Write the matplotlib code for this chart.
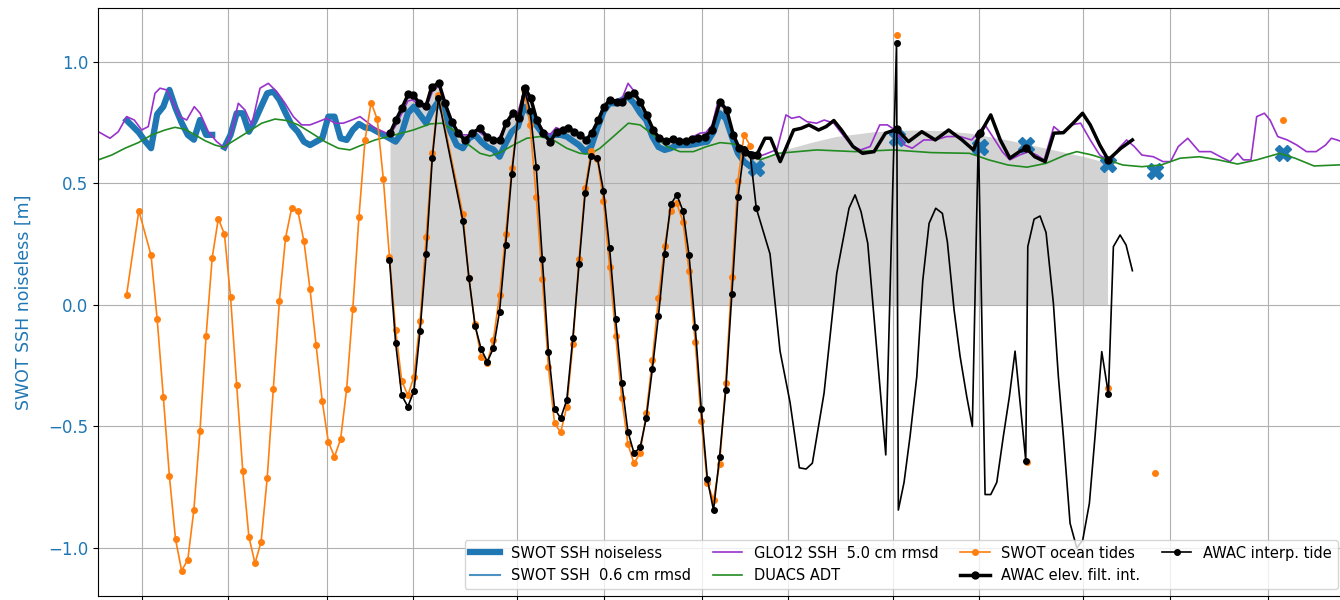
import numpy as np
import matplotlib
matplotlib.use("Agg")
import matplotlib.pyplot as plt
import matplotlib.dates as mdates

# time axis: days since 2023-04-01
t0 = np.datetime64("2023-04-01T00:00")
pass0 = -2.5        # day of first SWOT 1-day-orbit pass
repeat = 0.99349    # 1-day orbit repeat period [days]


def days2date(d):
    return t0 + np.round(np.asarray(d, dtype=float) * 86400).astype("timedelta64[s]")


# ---- SWOT SSH (1-day orbit, pass index 0..103, pass 15 missing)
ssh_pass = np.arange(0, 104)
ssh_noiseless = [0.76, 0.735, 0.71, 0.675, 0.645, 0.785, 0.816, 0.885, 0.81, 0.75,
                 0.70, 0.68, 0.761, 0.70, 0.70, np.nan,
                 0.649, 0.700, 0.789, 0.789, 0.713, 0.760, 0.816, 0.871, 0.878, 0.844,
                 0.790, 0.740, 0.713, 0.672, 0.658, 0.672, 0.686, 0.775, 0.775, 0.686,
                 0.679, 0.720, 0.745, 0.730, 0.727, 0.713, 0.700, 0.686, 0.672, 0.707,
                 0.789, 0.816, 0.782, 0.748, 0.802, 0.837, 0.789, 0.713, 0.658, 0.645,
                 0.686, 0.700, 0.672, 0.650, 0.640, 0.610, 0.665, 0.713, 0.734, 0.816,
                 0.789, 0.741, 0.707, 0.693, 0.700, 0.700, 0.693, 0.675, 0.658, 0.631,
                 0.652, 0.727, 0.796, 0.830, 0.830, 0.844, 0.857, 0.830, 0.790, 0.761,
                 0.693, 0.650, 0.638, 0.645, 0.658, 0.658, 0.658, 0.662, 0.668, 0.672,
                 0.713, 0.789, 0.768, 0.693, 0.624, 0.590, 0.570, 0.562]
ssh_06cm = ssh_noiseless  # 0.6 cm noise is below pixel level

# SWOT SSH at science-orbit passes
sci_ssh_day = [122.69, 136.24, 143.72, 157.03, 164.6, 185.4]
sci_ssh = [0.686, 0.652, 0.658, 0.580, 0.551, 0.624]

# ---- SWOT ocean tides (1-day orbit passes)
tide_pass = [0, 2] + list(range(4, 52)) + list(range(55, 103))
swot_tide = [0.042, 0.388,
             0.204, -0.059, -0.377, -0.704, -0.964, -1.093, -1.049, -0.844, -0.517, -0.128,
             0.195, 0.355, 0.292, 0.033, -0.328, -0.683, -0.953, -1.063, -0.974, -0.711,
             -0.344, 0.018, 0.276, 0.399, 0.388, 0.263, 0.065, -0.166, -0.396, -0.564,
             -0.624, -0.553, -0.344, -0.015, 0.361, 0.679, 0.833, 0.764, 0.517, 0.196,
             -0.103, -0.311, -0.372, -0.295, -0.065, 0.281, 0.624, 0.864,
             0.373, 0.110, -0.080, -0.215, -0.237, -0.144, 0.041, 0.291, 0.562, 0.770,
             0.885, 0.740, 0.446, 0.106, -0.256, -0.487, -0.524, -0.418, -0.160, 0.188,
             0.480, 0.635, 0.600, 0.429, 0.158, -0.126, -0.384, -0.572, -0.652, -0.608,
             -0.446, -0.226, 0.027, 0.243, 0.388, 0.418, 0.343, 0.140, -0.151, -0.476,
             -0.734, -0.802, -0.654, -0.322, 0.114, 0.512, 0.700, 0.656]
sci_tide_day = [122.7, 143.83, 157.0, 164.64, 185.44]
sci_tide = [1.11, -0.646, -0.342, -0.69, 0.761]

# ---- AWAC interpolated tide
awac_tide_pass = list(range(43, 52)) + list(range(55, 104))
awac_tide = [0.185, -0.155, -0.372, -0.418, -0.354, -0.106, 0.210, 0.604, 0.851,
             0.346, 0.110, -0.086, -0.182, -0.233, -0.178, -0.027, 0.247, 0.539, 0.768,
             0.892, 0.800, 0.569, 0.188, -0.192, -0.427, -0.466, -0.391, -0.134, 0.167,
             0.460, 0.613, 0.606, 0.470, 0.233, -0.059, -0.322, -0.521, -0.610, -0.586,
             -0.466, -0.263, -0.044, 0.210, 0.414, 0.453, 0.388, 0.204, -0.089, -0.429,
             -0.717, -0.844, -0.624, -0.350, 0.044, 0.443, 0.640, 0.620, 0.398]
awac_tide_day2 = [102.06, 103.69, 105.31, 106.83, 107.92, 108.94, 110.84, 112.90, 114.90,
                  115.88, 116.85, 117.94, 119.41, 120.87, 122.62, 122.91, 123.84, 124.82,
                  125.91, 126.88, 127.91, 128.99, 130.07, 130.88, 131.97, 132.94, 134.03,
                  134.94, 135.92, 137.01, 137.93, 138.91, 139.98, 140.96, 141.88, 143.62,
                  143.95, 144.97, 145.94, 146.92, 148.11, 148.92, 149.73, 150.82, 151.91,
                  152.88, 153.96, 154.88, 155.97, 157.05, 157.86, 158.95, 159.92, 160.95]
awac_tide2 = [0.21, -0.19, -0.40, -0.67, -0.675, -0.651, -0.363, 0.13, 0.398,
              0.453, 0.384, 0.254, -0.185, -0.617, 1.08, -0.844, -0.73, -0.54,
              -0.295, 0.10, 0.336, 0.398, 0.377, 0.26, -0.02, -0.21, -0.377,
              -0.50, 0.70, -0.78, -0.78, -0.73, -0.54, -0.377, -0.19, -0.64,
              0.24, 0.353, 0.366, 0.298, 0.007, -0.295, -0.54, -0.898, -1.0,
              -0.967, -0.816, -0.54, -0.192, -0.366, 0.24, 0.288, 0.247, 0.141]

# ---- AWAC elevation, filtered, interpolated
awac_day = [40.31, 41.28, 42.21, 43.28, 44.09, 45.07, 46.16, 47.08, 48.27, 49.24,
            50.33, 51.41, 52.49, 53.58, 54.93, 56.02, 57.09, 58.18, 59.16, 60.25,
            61.32, 62.25, 63.17, 64.15, 65.22, 66.31, 67.40, 68.37, 69.28, 70.26,
            71.18, 72.16, 73.09, 74.16, 75.09, 76.06, 77.15, 78.06, 79.04, 80.01,
            80.94, 82.02, 83.10, 84.07, 85.16, 86.25, 87.32, 88.41, 89.34, 90.41,
            91.50, 92.59, 93.94, 95.03, 96.10, 97.07, 98.00, 99.09, 99.90]
awac_elev = [0.707, 0.761, 0.809, 0.868, 0.864, 0.830, 0.819, 0.898, 0.912, 0.830,
             0.754, 0.707, 0.679, 0.707, 0.727, 0.693, 0.679, 0.679, 0.748, 0.789,
             0.768, 0.892, 0.851, 0.761, 0.707, 0.672, 0.713, 0.720, 0.727, 0.713,
             0.700, 0.679, 0.707, 0.761, 0.816, 0.844, 0.837, 0.837, 0.864, 0.871,
             0.837, 0.782, 0.720, 0.686, 0.676, 0.682, 0.676, 0.676, 0.682, 0.686,
             0.693, 0.720, 0.837, 0.802, 0.700, 0.645, 0.631, 0.617, 0.617]
awac_day2 = [101.24, 102.16, 103.72, 105.90, 107.13, 108.39, 109.95, 111.18, 112.43, 113.67,
             115.54, 117.10, 118.97, 120.82, 122.69, 124.56, 126.73, 128.91, 131.09, 133.27,
             135.12, 136.24, 137.93, 139.48, 141.04, 142.60, 143.72, 145.08, 146.76, 148.19,
             149.75, 151.31, 152.85, 154.10, 155.65, 157.03, 159.08, 160.95]
awac_elev2 = [0.686, 0.686, 0.590, 0.720, 0.727, 0.741, 0.720, 0.734, 0.759, 0.720,
              0.652, 0.624, 0.631, 0.707, 0.723, 0.672, 0.713, 0.679, 0.720, 0.679,
              0.638, 0.707, 0.782, 0.679, 0.604, 0.631, 0.645, 0.610, 0.590, 0.707,
              0.709, 0.748, 0.789, 0.741, 0.658, 0.597, 0.645, 0.679]

# shaded AWAC envelope after the 1-day phase
shade_day2 = [101.0, 105.3, 108.9, 112.7, 119.0, 125.1, 129.7, 134.5, 140.7, 146.9, 153.2, 156.9]
shade_top2 = [0.61, 0.645, 0.67, 0.693, 0.713, 0.72, 0.718, 0.707, 0.679, 0.645, 0.61, 0.585]

# ---- GLO12 SSH
glo_day = [-7.10, -5.20, -3.85, -2.49, -1.25, -0.05, 1.02, 2.11, 2.93, 4.01,
           5.09, 6.18, 7.26, 8.50, 9.43, 10.78, 12.14, 13.49, 14.58, 15.65,
           16.74, 17.83, 19.18, 20.53, 21.89, 23.24, 24.59, 25.95, 27.30, 28.65,
           30.02, 31.37, 32.72, 34.08, 35.43, 36.52, 37.87, 39.22, 40.31, 41.28,
           42.26, 43.23, 44.04, 45.02, 46.16, 47.29, 48.27, 49.24, 50.38, 51.36,
           52.17, 53.31, 54.44, 55.42, 56.56, 57.69, 58.67, 59.81, 60.94, 62.08,
           63.22, 64.20, 65.17, 66.31, 67.28, 68.26, 69.23, 70.21, 71.18, 72.16,
           73.13, 74.11, 75.08, 76.06, 77.20, 78.01, 78.99, 79.96, 80.94, 82.08,
           83.05, 84.03, 85.16, 86.30, 87.28, 88.41, 89.39, 90.69, 91.66, 92.64,
           93.61, 94.91, 96.05, 97.02, 98.00, 99.14, 100.11, 101.25, 102.22, 103.20,
           104.65, 105.59, 106.83, 108.08, 109.62, 110.87, 112.43, 113.67, 115.23, 116.79,
           118.33, 119.89, 121.13, 122.38, 123.94, 125.17, 127.04, 128.91, 130.78, 132.95,
           134.81, 137.00, 138.24, 139.80, 141.03, 142.59, 144.14, 145.39, 146.62, 148.18,
           149.44, 150.98, 152.54, 154.10, 155.64, 157.20, 158.76, 160.00, 161.25, 162.49,
           164.36, 165.92, 167.15, 168.41, 169.95, 171.82, 173.69, 175.25, 176.82, 178.04,
           178.98, 180.22, 181.15, 182.40, 183.32, 184.57, 186.13, 187.68, 189.24, 190.80,
           192.34, 193.29, 194.21, 196.3]
glo_ssh = [0.713, 0.686, 0.713, 0.775, 0.761, 0.720, 0.734, 0.871, 0.892, 0.885,
           0.830, 0.775, 0.761, 0.816, 0.789, 0.713, 0.672, 0.645, 0.713, 0.830,
           0.802, 0.741, 0.892, 0.912, 0.878, 0.830, 0.775, 0.741, 0.741, 0.754,
           0.768, 0.748, 0.748, 0.761, 0.775, 0.754, 0.727, 0.713, 0.70, 0.74,
           0.79, 0.84, 0.844, 0.82, 0.81, 0.885, 0.90, 0.83, 0.76, 0.71,
           0.70, 0.70, 0.72, 0.70, 0.68, 0.67, 0.72, 0.77, 0.78, 0.88,
           0.84, 0.76, 0.72, 0.70, 0.73, 0.72, 0.73, 0.72, 0.70, 0.68,
           0.70, 0.76, 0.82, 0.85, 0.84, 0.85, 0.912, 0.88, 0.84, 0.78,
           0.72, 0.69, 0.68, 0.68, 0.68, 0.68, 0.69, 0.707, 0.71, 0.74,
           0.837, 0.80, 0.70, 0.65, 0.63, 0.62, 0.61, 0.62, 0.63, 0.64,
           0.782, 0.768, 0.775, 0.754, 0.748, 0.761, 0.748, 0.707, 0.658, 0.638,
           0.652, 0.741, 0.741, 0.720, 0.658, 0.645, 0.679, 0.679, 0.693, 0.693,
           0.679, 0.741, 0.693, 0.631, 0.597, 0.617, 0.631, 0.617, 0.597, 0.734,
           0.707, 0.741, 0.748, 0.679, 0.617, 0.590, 0.645, 0.679, 0.652, 0.617,
           0.610, 0.590, 0.590, 0.652, 0.686, 0.631, 0.631, 0.610, 0.590, 0.624,
           0.597, 0.597, 0.775, 0.789, 0.761, 0.693, 0.679, 0.658, 0.631, 0.631,
           0.658, 0.686, 0.679, 0.66]

# ---- DUACS ADT
duacs_day = [-7.10, -4.92, -2.76, -0.60, 1.58, 3.74, 5.36, 6.99, 8.61, 10.24,
             11.86, 13.21, 15.11, 17.28, 19.45, 21.62, 23.52, 25.40, 27.58, 29.74,
             31.90, 33.80, 35.71, 37.87, 40.03, 42.21, 44.09, 46.81, 48.71, 50.59,
             52.77, 54.93, 56.56, 58.18, 60.34, 62.52, 64.68, 66.84, 69.02, 71.18,
             72.81, 74.43, 76.60, 79.04, 80.94, 83.10, 85.27, 87.43, 89.60, 91.77,
             93.94, 96.10, 98.28, 100.44, 103.41, 109.62, 115.85, 122.07, 128.29, 134.50,
             137.62, 140.73, 143.83, 146.95, 150.05, 151.92, 154.41, 156.90, 159.38, 162.49,
             165.61, 168.71, 171.82, 174.94, 178.04, 181.15, 184.88, 187.38, 190.47, 194.21,
             197.9]
duacs_adt = [0.597, 0.617, 0.645, 0.668, 0.700, 0.720, 0.731, 0.723, 0.700, 0.676,
             0.658, 0.649, 0.679, 0.713, 0.748, 0.765, 0.759, 0.741, 0.707, 0.672,
             0.645, 0.638, 0.658, 0.679, 0.693, 0.707, 0.720, 0.745, 0.748, 0.720,
             0.665, 0.624, 0.613, 0.627, 0.658, 0.686, 0.693, 0.679, 0.645, 0.624,
             0.621, 0.645, 0.693, 0.748, 0.741, 0.700, 0.652, 0.631, 0.631, 0.652,
             0.668, 0.663, 0.638, 0.597, 0.624, 0.638, 0.631, 0.638, 0.627, 0.624,
             0.597, 0.576, 0.567, 0.583, 0.617, 0.631, 0.617, 0.597, 0.576, 0.569,
             0.576, 0.604, 0.610, 0.597, 0.580, 0.597, 0.624, 0.604, 0.572, 0.576,
             0.58]

# ---------------------------------------------------------------------------
ssh_day = pass0 + repeat * ssh_pass
tide_day = pass0 + repeat * np.array(tide_pass)
awac_tide_day = pass0 + repeat * np.array(awac_tide_pass)

fig = plt.figure(figsize=(13.4, 6), dpi=100)
ax = fig.add_axes([98 / 1340, 4 / 600, 1247 / 1340, 588 / 600])

# shaded AWAC period
shade_day = np.concatenate([awac_day, shade_day2])
shade_top = np.concatenate([awac_elev, shade_top2])
ax.fill_between(days2date(shade_day), 0, shade_top, color="lightgray", lw=0)

ax.plot(days2date(ssh_day), ssh_noiseless, color="tab:blue", lw=4.5,
        label="SWOT SSH noiseless")
ax.plot(days2date(np.append(sci_ssh_day, ssh_day[-1])), np.append(sci_ssh, ssh_noiseless[-1]),
        ls="none", marker="X", ms=11, color="tab:blue")
ax.plot(days2date(ssh_day), ssh_06cm, color="tab:blue", lw=1.5, alpha=0.8,
        label="SWOT SSH  0.6 cm rmsd")
ax.plot(days2date(glo_day), glo_ssh, color="darkorchid", lw=1.2,
        label="GLO12 SSH  5.0 cm rmsd")
ax.plot(days2date(duacs_day), duacs_adt, color="forestgreen", lw=1.2,
        label="DUACS ADT")

ax.plot(days2date(tide_day), swot_tide, color="tab:orange", lw=1.2, marker=".", ms=8,
        label="SWOT ocean tides")
ax.plot(days2date(sci_tide_day), sci_tide, color="tab:orange", ls="none", marker=".", ms=8)


def sci_index(days, tol=0.35):
    days = np.asarray(days)
    idx = []
    for d in sci_ssh_day:
        i = np.argmin(np.abs(days - d))
        if abs(days[i] - d) < tol:
            idx.append(i)
    return idx


# AWAC elevation (thick)
ax.plot(days2date(awac_day), awac_elev, color="black", lw=2.5, marker=".", ms=10,
        label="AWAC elev. filt. int.")
ax.plot(days2date([awac_day[-1]] + awac_day2), [awac_elev[-1]] + awac_elev2,
        color="black", lw=2.5)
i2 = sci_index(awac_day2)
ax.plot(days2date(np.array(awac_day2)[i2]), np.array(awac_elev2)[i2],
        color="black", ls="none", marker=".", ms=10)

# AWAC tide (thin)
ax.plot(days2date(awac_tide_day), awac_tide, color="black", lw=1.2, marker=".", ms=8,
        label="AWAC interp. tide")
ax.plot(days2date([awac_tide_day[-1]] + awac_tide_day2), [awac_tide[-1]] + awac_tide2,
        color="black", lw=1.2)
i3 = sci_index(awac_tide_day2)
ax.plot(days2date(np.array(awac_tide_day2)[i3]), np.array(awac_tide2)[i3],
        color="black", ls="none", marker=".", ms=8)

ax.set_xlim(days2date(-7.15), days2date(195.5))
ax.set_ylim(-1.1975, 1.222)
ax.xaxis.set_major_locator(mdates.DayLocator(bymonthday=[1, 15]))
ax.grid(True)
ax.tick_params(axis="both", labelsize=12)
ax.tick_params(axis="x", labelbottom=False)
ax.tick_params(axis="y", labelcolor="tab:blue")
ax.set_ylabel("SWOT SSH noiseless [m]", color="tab:blue", fontsize=12.5, labelpad=11)

ax.legend(loc="lower right", ncol=4, fontsize=10.5, columnspacing=1.5)

fig.savefig("out.png", dpi=100)
